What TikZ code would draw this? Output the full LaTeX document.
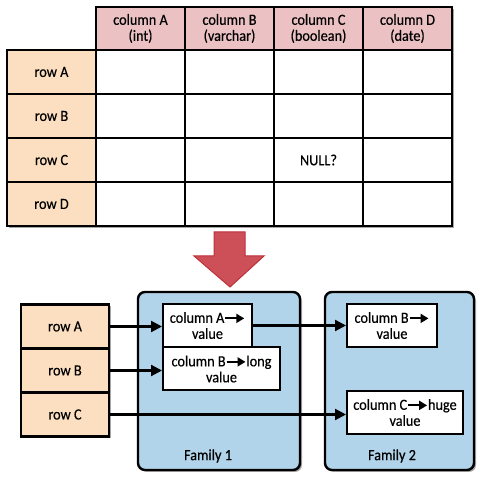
\documentclass[tikz,border=0pt]{standalone}
\usepackage{fontspec}
\setmainfont{Carlito}[FakeBold=0.4,FakeStretch=0.92]
\usetikzlibrary{arrows.meta,shadows}

\definecolor{headpink}{HTML}{EBC1C4}
\definecolor{rowpeach}{HTML}{FCDFC0}
\definecolor{famblue}{HTML}{B1D4EA}
\definecolor{arrowred}{HTML}{CD5058}
\definecolor{arrowedge}{HTML}{BE3038}
\newcommand{\colarrow}{\tikz[baseline=-0.6ex]\draw[line width=1.8pt,-{Triangle[length=8pt,width=9pt]}] (0pt,0pt) -- (19pt,0pt);}

\begin{document}
\begin{tikzpicture}[x=1pt,y=1pt,
  font=\fontsize{15.5}{16}\selectfont,
  castshadow/.style={drop shadow={shadow xshift=2pt,shadow yshift=-2pt,opacity=0.35,fill=black}},
  cellbox/.style={rectangle,draw,line width=2.6pt,fill=white,minimum width=89pt,minimum height=44pt,inner sep=0pt,align=center,castshadow},
  headbox/.style={cellbox,fill=headpink,minimum height=43pt},
  rowbox/.style={cellbox,fill=rowpeach},
  family/.style={rectangle,rounded corners=7pt,draw,line width=2.4pt,fill=famblue,castshadow},
  valbox/.style={rectangle,draw,line width=2pt,fill=white,minimum height=43pt,inner sep=0pt,align=center},
  link/.style={line width=2.2pt,-{Triangle[length=11pt,width=11pt]}}]
\useasboundingbox (0,0) rectangle (488,484);

% table
\foreach \c/\kind [count=\i] in {A/int, B/varchar, C/boolean, D/date}
  \path ({51.5+89*\i},455.5) node[headbox] (head\c) {column \c\\(\kind)};
\foreach \r [count=\j] in {A,B,C,D} {
  \path (51.5,{456-44*\j}) node[rowbox] (trow\r) {row \r};
  \foreach \c [count=\i] in {A,B,C,D}
    \path ({51.5+89*\i},{456-44*\j}) node[cellbox] (cell\r\c) {};
}
\path (cellCC) node (nullmark) {NULL?};

% big arrow
\draw[fill=arrowred,draw=arrowedge,line width=1pt] (214,252) -- (245,252) -- (245,228)
  -- (264,228) -- (230,197) -- (194,228) -- (214,228) -- cycle;

% column families
\path (219,103) node[family,minimum width=162pt,minimum height=178pt] (fam1) {};
\path (399.5,103) node[family,minimum width=149pt,minimum height=178pt] (fam2) {};
\path (208,28) node (fam1label) {Family 1};
\path (392,28) node (fam2label) {Family 2};

\path (65,157.5) node[rowbox,minimum width=88pt] (keyA) {row A};
\path (65,113.5) node[rowbox,minimum width=88pt] (keyB) {row B};
\path (65,69.5) node[rowbox,minimum width=88pt] (keyC) {row C};

\path (207.5,158.5) node[valbox,minimum width=89pt] (valA) {column A\colarrow\\value};
\path (221.5,115) node[valbox,minimum width=117pt] (valB) {column B\colarrow long\\value};
\path (392,158.5) node[valbox,minimum width=90pt] (valFB) {column B\colarrow\\value};
\path (405,71.5) node[valbox,minimum width=116pt] (valC) {column C\colarrow huge\\value};

\draw[link] (keyA.east) -- (keyA.east -| valA.west);
\draw[link] (keyB.east) -- (keyB.east -| valB.west);
\draw[link] (valA.east) -- (valA.east -| valFB.west);
\draw[link] (keyC.east) -- (keyC.east -| valC.west);
\end{tikzpicture}
\end{document}
